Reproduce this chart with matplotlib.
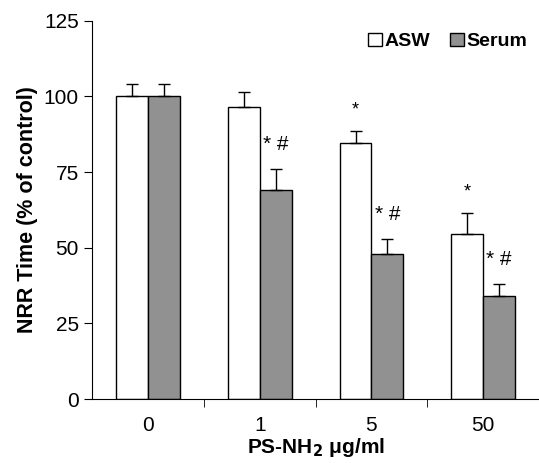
import numpy as np
import matplotlib
matplotlib.use('Agg')
import matplotlib.pyplot as plt

plt.rcParams['font.family'] = ['Liberation Sans', 'DejaVu Sans']

# Data
doses = ['0', '1', '5', '50']
aswMean = [100, 96.5, 84.5, 54.5]
aswErr = [4, 5, 4, 7]
serumMean = [100, 69, 48, 34]
serumErr = [4, 7, 5, 4]
aswMarks = ['', '', '*', '*']
serumMarks = ['', '* #', '* #', '* #']

fig = plt.figure(figsize=(5.39, 4.63), dpi=100)
ax = fig.add_axes([0.171, 0.138, 0.829, 0.817])

x = np.arange(len(doses))
w = 0.285
errKw = dict(ecolor='black', elinewidth=1, capsize=4, capthick=1)
ax.bar(x - w/2, aswMean, w, color='white', edgecolor='black', linewidth=1,
       yerr=[np.zeros(len(aswErr)), aswErr], error_kw=errKw, label='ASW')
ax.bar(x + w/2, serumMean, w, color='#919191', edgecolor='black', linewidth=1,
       yerr=[np.zeros(len(serumErr)), serumErr], error_kw=errKw, label='Serum')

# significance marks
for i in range(len(doses)):
    if aswMarks[i]:
        ax.text(x[i] - w/2, aswMean[i] + aswErr[i] + 7, aswMarks[i],
                ha='center', va='center', fontsize=13)
    if serumMarks[i]:
        ax.text(x[i] + w/2, serumMean[i] + serumErr[i] + 8, serumMarks[i],
                ha='center', va='center', fontsize=15)

ax.set_xlim(-0.5, 3.5)
ax.set_ylim(0, 125)
ax.set_yticks([0, 25, 50, 75, 100, 125])
ax.set_xticks(x)
ax.set_xticklabels(doses)
ax.set_xticks([0.5, 1.5, 2.5], minor=True)
ax.tick_params(axis='x', which='major', length=0, pad=12, labelsize=15)
ax.tick_params(axis='x', which='minor', length=6, direction='out')
ax.tick_params(axis='y', length=6, direction='out', labelsize=15)
ax.spines['top'].set_visible(False)
ax.spines['right'].set_visible(False)

ax.set_ylabel('NRR Time (% of control)', fontsize=15.5, fontweight='bold', labelpad=4)
ax.set_xlabel('PS-NH$_\\mathbf{2}$ \u03bcg/ml', fontsize=15, fontweight='bold', labelpad=1)

ax.legend(loc='upper right', bbox_to_anchor=(1.0, 1.0), ncol=2, frameon=False,
          prop={'weight': 'bold', 'size': 14}, handlelength=0.7, handleheight=0.7,
          handletextpad=0.15, columnspacing=1.0, borderaxespad=0.2)

plt.savefig('out.png', dpi=100)
